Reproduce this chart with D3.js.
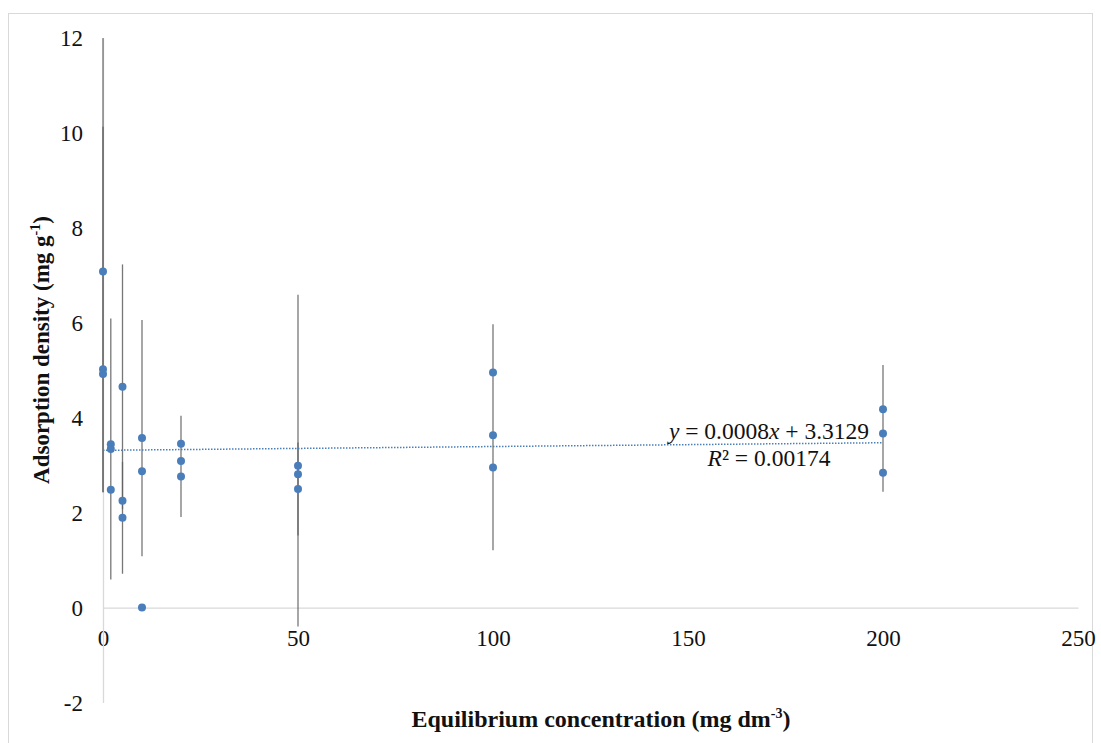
<!DOCTYPE html>
<html>
<head>
<meta charset="utf-8">
<script src="https://cdn.jsdelivr.net/npm/d3@7"></script>
<style>
  html, body { margin: 0; padding: 0; background: #fff; }
  svg { display: block; }
  text { font-family: "Liberation Serif", "Times New Roman", serif; fill: #111; }
</style>
</head>
<body>
<svg id="chart" width="1101" height="743"></svg>
<script>
// ---- Data ----
const xValues = [0, 0, 0, 2, 2, 2, 5, 5, 5, 10, 10, 10, 20, 20, 20, 50, 50, 50, 100, 100, 100, 200, 200, 200];
const yValues = [7.08, 5.02, 4.92, 3.44, 3.34, 2.48, 4.65, 2.25, 1.89, 3.57, 2.87, 0.00, 3.45, 3.09, 2.76, 2.99, 2.81, 2.50, 4.95, 3.63, 2.95, 4.18, 3.67, 2.84];
const errPlus  = [5.22, 5.11, 0, 0, 2.75, 0, 2.58, 0, 1.18, 2.49, 0, 0, 0, 0.95, 0, 3.60, 0, 0.98, 0, 2.34, 0, 0, 1.44, 0];
const errMinus = [4.65, 2.59, 0, 0, 2.75, 0, 2.58, 0, 1.18, 2.49, 0, 0, 0, 1.18, 0, 3.39, 0, 0.98, 0, 2.42, 0, 0, 1.23, 0];
const trendSlope = [0.0008];
const trendIntercept = [3.3129];
const trendRange = [0, 200];
const xTicks = [0, 50, 100, 150, 200, 250];
const yTicks = [-2, 0, 2, 4, 6, 8, 10, 12];
const xTitle = "Equilibrium concentration (mg dm";
const xTitleSup = "-3";
const yTitle = "Adsorption density (mg g";
const yTitleSup = "-1";
const eqLine1 = ["y", " = 0.0008", "x", " + 3.3129"];
const eqLine2 = ["R", "² = 0.00174"];

// ---- Layout ----
const svg = d3.select("#chart");
const x = d3.scaleLinear().domain([0, 250]).range([103, 1078]);
const y = d3.scaleLinear().domain([-2, 12]).range([702.5, 38]);
const SERIF = "'Liberation Serif', 'Times New Roman', serif";
const fmt = d => String(d);

// outer border
svg.append("rect").attr("x", 8.5).attr("y", 13.5).attr("width", 1084).attr("height", 740)
  .attr("fill", "none").attr("stroke", "#d9d9d9").attr("stroke-width", 1);

// clip for plot area
svg.append("clipPath").attr("id", "plotclip").append("rect")
  .attr("x", x(0) - 10).attr("y", y(12)).attr("width", x(250) - x(0) + 20).attr("height", y(-2) - y(12));

// x axis at y=0
const xAxis = d3.axisBottom(x).tickValues(xTicks).tickSize(0).tickPadding(0).tickFormat(fmt);
const gx = svg.append("g").attr("transform", `translate(0,${y(0)})`).call(xAxis).attr("font-family", SERIF);
gx.select(".domain").attr("stroke", "#d9d9d9").attr("stroke-width", 1.3);
gx.selectAll(".tick text").attr("y", 38).attr("dy", 0).style("font-size", "23px")
  .style("font-family", SERIF).attr("fill", "#111");

// y axis at x=0
const yAxis = d3.axisLeft(y).tickValues(yTicks).tickSize(0).tickPadding(0).tickFormat(fmt);
const gy = svg.append("g").attr("transform", `translate(${x(0)},0)`).call(yAxis).attr("font-family", SERIF);
gy.select(".domain").attr("stroke", "#d9d9d9").attr("stroke-width", 1.3);
gy.selectAll(".tick text").attr("x", -20).attr("dy", "0.34em").style("font-size", "23px")
  .style("font-family", SERIF).attr("fill", "#111");

const plot = svg.append("g").attr("clip-path", "url(#plotclip)");

// error bars
const pts = xValues.map((xv, i) => ({ x: xv, y: yValues[i], p: errPlus[i], m: errMinus[i] }));
plot.selectAll("line.err").data(pts.filter(d => d.p > 0 || d.m > 0)).enter().append("line")
  .attr("class", "err")
  .attr("x1", d => x(d.x)).attr("x2", d => x(d.x))
  .attr("y1", d => y(d.y + d.p)).attr("y2", d => y(d.y - d.m))
  .attr("stroke", "#5f5f5f").attr("stroke-width", 1.3).attr("stroke-opacity", 0.85);

// trendline
const trendData = trendRange.map(xv => ({ x: xv, y: trendSlope[0] * xv + trendIntercept[0] }));
plot.append("path").datum(trendData)
  .attr("d", d3.line().x(d => x(d.x)).y(d => y(d.y)))
  .attr("fill", "none").attr("stroke", "#4a7ebb").attr("stroke-width", 1.5)
  .attr("stroke-dasharray", "1.5,1.5");

// points
plot.selectAll("circle.pt").data(pts).enter().append("circle")
  .attr("class", "pt")
  .attr("cx", d => x(d.x)).attr("cy", d => y(d.y)).attr("r", 4)
  .attr("fill", "#4a7ebb");

// equation label
const eq = svg.append("text").attr("x", 769).attr("y", 439).attr("text-anchor", "middle")
  .style("font-size", "23.5px");
eqLine1.forEach((s, i) => eq.append("tspan").text(s).style("font-style", (i % 2 === 0) ? "italic" : "normal"));
const r2 = svg.append("text").attr("x", 769).attr("y", 466).attr("text-anchor", "middle")
  .style("font-size", "23.5px");
eqLine2.forEach((s, i) => r2.append("tspan").text(s).style("font-style", i === 0 ? "italic" : "normal"));

// axis titles
const xt = svg.append("text").attr("x", 601).attr("y", 727).attr("text-anchor", "middle")
  .style("font-size", "24px").style("font-weight", "bold");
xt.append("tspan").text(xTitle);
xt.append("tspan").text(xTitleSup).attr("dy", -9).style("font-size", "14px");
xt.append("tspan").text(")").attr("dy", 9);

const yt = svg.append("text").attr("transform", `translate(49,350) rotate(-90)`).attr("text-anchor", "middle")
  .style("font-size", "23px").style("font-weight", "bold");
yt.append("tspan").text(yTitle);
yt.append("tspan").text(yTitleSup).attr("dy", -9).style("font-size", "14px");
yt.append("tspan").text(")").attr("dy", 9);
</script>
</body>
</html>
